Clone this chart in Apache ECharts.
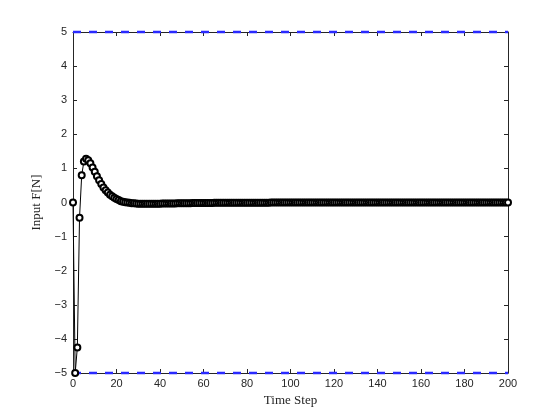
<!DOCTYPE html>
<html>
<head>
<meta charset="utf-8">
<script src="https://cdn.jsdelivr.net/npm/echarts@6/dist/echarts.min.js"></script>
<style>
  html, body { margin: 0; padding: 0; background: #fff; }
  #chart { width: 560px; height: 420px; }
</style>
</head>
<body>
<div id="chart"></div>
<script>
// input force per time step (step = index)
const inputF = [
  0, -5, -4.25, -0.45, 0.8, 1.2, 1.28, 1.24, 1.15, 1.03,
  0.9, 0.77, 0.65, 0.54, 0.44, 0.36, 0.29, 0.23, 0.18, 0.14,
  0.1, 0.07, 0.04, 0.02, 0.01, 0, -0.01, -0.02, -0.025, -0.03,
  -0.035, -0.04, -0.04, -0.04, -0.04, -0.04, -0.038, -0.036, -0.035, -0.034,
  -0.033, -0.032, -0.031, -0.03, -0.029, -0.028, -0.027, -0.026, -0.025, -0.024,
  -0.023, -0.022, -0.021, -0.02, -0.019, -0.018, -0.017, -0.016, -0.015, -0.014,
  -0.013, -0.012, -0.012, -0.011, -0.011, -0.01, -0.01, -0.009, -0.009, -0.008,
  -0.008, -0.007, -0.007, -0.007, -0.007, -0.007, -0.006, -0.006, -0.006, -0.006,
  -0.006, -0.005, -0.005, -0.005, -0.005, -0.005, -0.004, -0.004, -0.004, -0.004,
  -0.004, -0.003, -0.003, -0.003, -0.003, -0.003, -0.002, -0.002, -0.002, -0.002,
  -0.002, -0.001, -0.001, -0.001, -0.001, -0.001, -0.001, -0.001, -0.001, -0.001,
  -0.001, -0.001, -0.001, -0.001, -0.001, -0.001, -0.001, -0.001, -0.001, -0.001,
  -0.001, 0, 0, 0, 0, 0, 0, 0, 0, 0,
  0, 0, 0, 0, 0, 0, 0, 0, 0, 0,
  0, 0, 0, 0, 0, 0, 0, 0, 0, 0,
  0, 0, 0, 0, 0, 0, 0, 0, 0, 0,
  0, 0, 0, 0, 0, 0, 0, 0, 0, 0,
  0, 0, 0, 0, 0, 0, 0, 0, 0, 0,
  0, 0, 0, 0, 0, 0, 0, 0, 0, 0,
  0, 0, 0, 0, 0, 0, 0, 0, 0, 0,
  0
];
// constraint lines
const boundSteps = [0, 200];
const upperBound = [5, 5];
const lowerBound = [-5, -5];

const chart = echarts.init(document.getElementById('chart'));

const tickFont = { fontFamily: 'Liberation Sans, Arial, sans-serif', fontSize: 11, color: '#262626' };
const nameFont = { fontFamily: 'Liberation Serif, DejaVu Serif, serif', fontSize: 13, color: '#262626' };
// matlab style minus sign
const fmt = (v) => String(v).replace('-', '\u2212');

const boxAxis = (position) => ({
  position: position,
  axisLine: { show: true, onZero: false, lineStyle: { color: '#262626', width: 1 } },
  axisTick: { show: true, inside: true, length: 4, lineStyle: { color: '#262626' } },
  axisLabel: { show: false },
  splitLine: { show: false }
});

const option = {
  animation: false,
  backgroundColor: '#fff',
  grid: { left: 73, right: 52, top: 32, bottom: 47 },
  xAxis: [
    {
      type: 'value', min: 0, max: 200, interval: 20,
      name: 'Time Step', nameLocation: 'middle', nameGap: 20,
      nameTextStyle: nameFont,
      axisLine: { onZero: false, lineStyle: { color: '#262626', width: 1 } },
      axisTick: { inside: true, length: 4, lineStyle: { color: '#262626' } },
      axisLabel: Object.assign({ margin: 5, formatter: fmt }, tickFont),
      splitLine: { show: false }
    },
    Object.assign({ type: 'value', min: 0, max: 200, interval: 20 }, boxAxis('top'))
  ],
  yAxis: [
    {
      type: 'value', min: -5, max: 5, interval: 1,
      name: 'Input F[N]', nameLocation: 'middle', nameGap: 22,
      nameTextStyle: nameFont,
      axisLine: { show: true, onZero: false, lineStyle: { color: '#262626', width: 1 } },
      axisTick: { show: true, inside: true, length: 4, lineStyle: { color: '#262626' } },
      axisLabel: Object.assign({ margin: 6, formatter: fmt }, tickFont),
      splitLine: { show: false }
    },
    Object.assign({ type: 'value', min: -5, max: 5, interval: 1 }, boxAxis('right'))
  ],
  series: [
    {
      type: 'line', showSymbol: false, silent: true, clip: false, z: 5,
      data: boundSteps.map((s, i) => [s, upperBound[i]]),
      lineStyle: { color: '#2a2aff', width: 2.5, type: [8, 8] }
    },
    {
      type: 'line', showSymbol: false, silent: true, clip: false, z: 5,
      data: boundSteps.map((s, i) => [s, lowerBound[i]]),
      lineStyle: { color: '#2a2aff', width: 2.5, type: [8, 8] }
    },
    {
      type: 'line', clip: false,
      data: inputF.map((v, i) => [i, v]),
      symbol: 'emptyCircle', symbolSize: 6, showAllSymbol: true,
      lineStyle: { color: '#000', width: 1 },
      itemStyle: { color: '#000', borderColor: '#000', borderWidth: 0.8 },
      z: 6
    }
  ]
};
chart.setOption(option);
</script>
</body>
</html>
